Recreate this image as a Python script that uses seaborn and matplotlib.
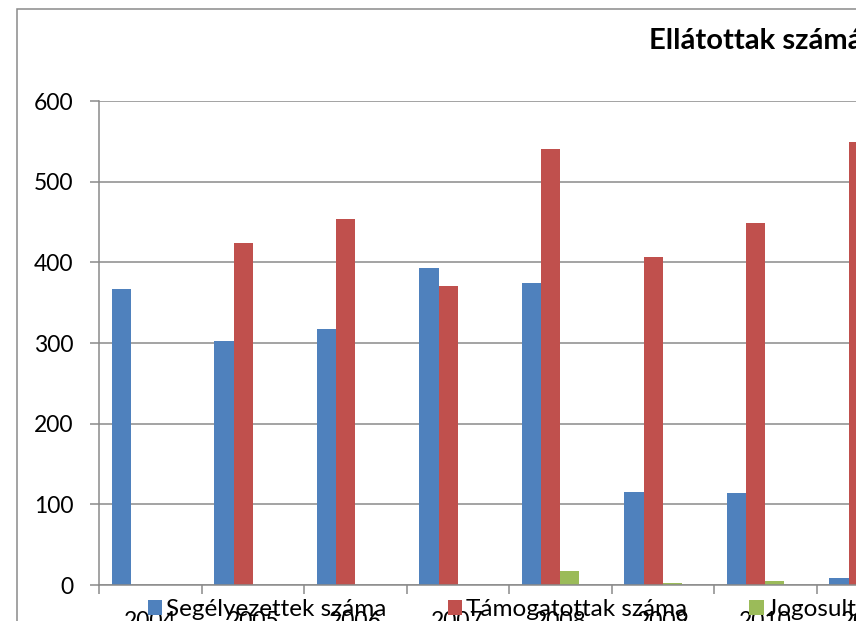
import matplotlib
matplotlib.use("Agg")
import matplotlib.pyplot as plt
from matplotlib.patches import Patch, Rectangle
import seaborn as sns
import pandas as pd
import numpy as np

# ---- data ----
years = ["2004", "2005", "2006", "2007", "2008", "2009", "2010", "2011"]
segelyezettek = [367, 302, 317, 393, 374, 115, 114, 9]
tamogatottak = [0, 424, 454, 371, 540, 407, 449, 549]
jogosultak = [0, 0, 0, 0, 17, 2, 5, 0]
negyedik = [0, 0, 0, 0, 0, 0, 0, 0]
series_names = ["Segélyezettek száma", "Támogatottak száma",
                "Jogosultak száma", "Elutasítottak száma"]
colors = ["#4F81BD", "#C0504D", "#9BBB59", "#8064A2"]
title = "Ellátottak számának alakulása"
yticks = [0, 100, 200, 300, 400, 500, 600]

rows = []
for name, vals in zip(series_names, [segelyezettek, tamogatottak, jogosultak, negyedik]):
    for y, v in zip(years, vals):
        rows.append({"Év": y, "Sorozat": name, "Érték": v})
df = pd.DataFrame(rows)

plt.rcParams['font.family'] = ['Lato', 'DejaVu Sans']
GREY = "#8A8A8A"

W, H = 856, 621
fig = plt.figure(figsize=(W / 100, H / 100), dpi=100)
cat_w = 102.5
ax = fig.add_axes([99 / W, 36 / H, len(years) * cat_w / W, 484 / H])

sns.barplot(data=df, x="Év", y="Érték", hue="Sorozat", order=years,
            hue_order=series_names, palette=colors, width=0.75,
            linewidth=0, ax=ax, legend=False, errorbar=None, saturation=1)

ax.set_xlim(-0.5, len(years) - 0.5)
ax.set_ylim(0, 600)
ax.set_yticks(yticks)
ax.set_xlabel("")
ax.set_ylabel("")

# grid and spines
ax.set_axisbelow(True)
ax.yaxis.grid(True, color=GREY, linewidth=1.1)
ax.xaxis.grid(False)
for s in ["top", "right"]:
    ax.spines[s].set_visible(False)
for s in ["left", "bottom"]:
    ax.spines[s].set_color(GREY)
    ax.spines[s].set_linewidth(1.1)

ax.tick_params(axis="y", length=6.5, width=1.1, color=GREY, labelsize=16.5,
               pad=12, labelcolor="black")
ax.set_xticks(np.arange(len(years)))
ax.set_xticklabels(years)
ax.set_xticks(np.arange(len(years) + 1) - 0.5, minor=True)
ax.tick_params(axis="x", which="major", length=0, labelsize=16.5, pad=19)
ax.tick_params(axis="x", which="minor", length=6.5, width=1.1, color=GREY)
ax.set_facecolor("white")

# outer chart border (cropped)
fig.add_artist(Rectangle((16.5 / W, -0.2), 1.2, 1.2 - 8.5 / H, transform=fig.transFigure,
                         fill=False, edgecolor=GREY, linewidth=1.1))

# title (cropped by the figure edge)
fig.text(649 / W, 1 - 49 / H, title, ha="left", va="baseline",
         fontsize=21, fontweight="bold")

# legend
handles = [Patch(facecolor=c, edgecolor="none") for c in colors]
fig.legend(handles, series_names, loc="center left",
           bbox_to_anchor=(148 / W, 1 - 610 / H), ncol=4, frameon=False,
           fontsize=17.5, handlelength=0.58, handleheight=0.58,
           handletextpad=0.16, columnspacing=2.55, borderaxespad=0,
           borderpad=0)

fig.savefig("out.png", dpi=100)
